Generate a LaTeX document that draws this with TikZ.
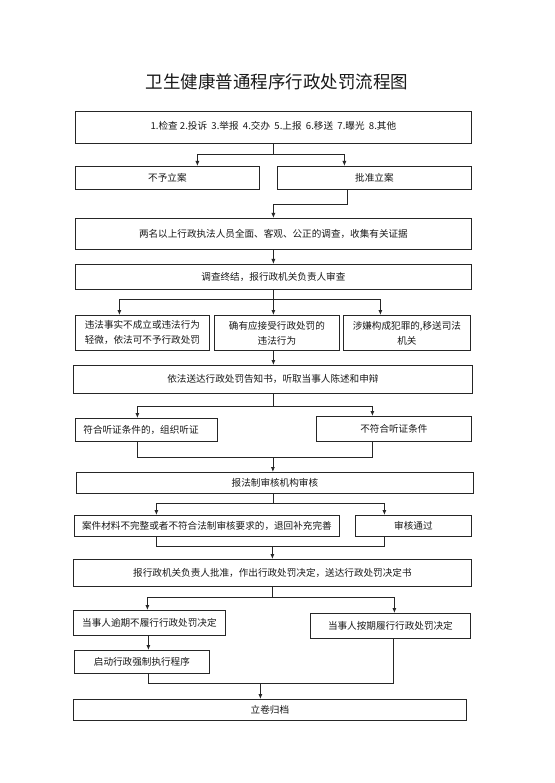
\documentclass[tikz,border=0pt]{standalone}
\usepackage{fontspec}
\newfontfamily\cjk{Noto Sans CJK SC}
\usetikzlibrary{arrows.meta,calc}
\begin{document}
\begin{tikzpicture}[x=1pt,y=-1pt,
  box/.style={draw=black!85, line width=0.8pt, inner sep=0pt, anchor=north west,
    font=\cjk\fontsize{9.6}{15}\selectfont, align=center, text=black!90},
  conn/.style={draw=black!85, line width=0.8pt},
  arr/.style={conn, -{Latex[length=5pt,width=4pt]}}]
\useasboundingbox[fill=white] (0,0) rectangle (554,783);

\node[font=\cjk\fontsize{17.5}{20}\selectfont, text=black!90] (title) at (277,82) {卫生健康普通程序行政处罚流程图};

\node[box, minimum width=396, minimum height=32] (b1) at (75,111)
  {\raisebox{4pt}{1.检查 2.投诉\ \ 3.举报\ \ 4.交办\ \ 5.上报\ \ 6.移送\ \ 7.曝光\ \ 8.其他}};
\node[box, minimum width=184, minimum height=23] (b2a) at (75,166) {不予立案};
\node[box, minimum width=194, minimum height=23] (b2b) at (277,166) {批准立案};
\node[box, minimum width=396, minimum height=31] (b3) at (75,218) {两名以上行政执法人员全面、客观、公正的调查，收集有关证据};
\node[box, minimum width=396, minimum height=25] (b4) at (75,264) {调查终结，报行政机关负责人审查};
\node[box, minimum width=134, minimum height=35] (b5a) at (75,315) {违法事实不成立或违法行为\\轻微，依法可不予行政处罚};
\node[box, minimum width=125, minimum height=35] (b5b) at (214,315) {确有应接受行政处罚的\\违法行为};
\node[box, minimum width=127, minimum height=35] (b5c) at (343,315) {涉嫌构成犯罪的,移送司法\\机关};
\node[box, minimum width=399, minimum height=28] (b6) at (73,365) {依法送达行政处罚告知书，听取当事人陈述和申辩};
\node[box, minimum height=23, inner xsep=8pt, text width=126pt, align=left] (b7a) at (75,418) {符合听证条件的，组织听证};
\node[box, minimum width=155, minimum height=25] (b7b) at (316,416) {\raisebox{1pt}{不符合听证条件}};
\node[box, minimum width=397, minimum height=21] (b8) at (76,472) {报法制审核机构审核};
\node[box, minimum width=265, minimum height=21] (b9a) at (74,515) {案件材料不完整或者不符合法制审核要求的，退回补充完善};
\node[box, minimum width=116, minimum height=21] (b9b) at (355,515) {审核通过};
\node[box, minimum width=398, minimum height=27] (b10) at (73,559) {报行政机关负责人批准，作出行政处罚决定，送达行政处罚决定书};
\node[box, minimum width=152, minimum height=25] (b11a) at (73,610) {当事人逾期不履行行政处罚决定};
\node[box, minimum width=160, minimum height=25] (b11b) at (310,613) {当事人按期履行行政处罚决定};
\node[box, minimum width=135, minimum height=23] (b12) at (74,650) {启动行政强制执行程序};
\node[box, minimum width=393, minimum height=21] (b13) at (73,699) {立卷归档};

% b1 -> b2
\draw[arr] (b1.south) -- ++(0,11) -| ($(b2a.north)+(30,0)$);
\draw[arr] (b1.south) -- ++(0,11) -| ($(b2b.north)+(-30,0)$);
% b2b -> b3
\draw[arr] ($(b2b.south)+(-27,0)$) -- ++(0,15) -| (b3.north);
% b3 -> b4
\draw[arr] (b3.south) -- (b4.north);
% b4 -> b5
\draw[arr] (b4.south) -- ++(0,10) -| ($(b5a.north)+(-23,0)$);
\draw[arr] (b4.south) -- (b4.south |- b5b.north);
\draw[arr] (b4.south) -- ++(0,10) -| ($(b5c.north)+(-26.5,0)$);
% b5b -> b6
\draw[arr] (b5b.south -| b4.south) -- (b6.north -| b4.south);
% b6 -> b7
\draw[arr] (b6.south) -- ++(0,13) -| ($(b7a.north)+(-9,0)$);
\draw[arr] (b6.south) -- ++(0,13) -| ($(b7b.north)+(-21.5,0)$);
% b7 -> b8
\draw[conn] ($(b7a.south)+(-9,0)$) -- ++(0,16) coordinate (m7) -| ($(b7b.south)+(-21.5,0)$);
\draw[arr] ($(m7 -| b6.south)$) -- (b8.north -| b6.south);
% b8 -> b9
\draw[arr] (b8.south -| b6.south) -- ++(0,10) -| ($(b9a.north)+(-50.5,0)$);
\draw[arr] (b8.south -| b6.south) -- ++(0,10) -| ($(b9b.north)+(-29,0)$);
% b9 -> b10
\draw[conn] ($(b9a.south)+(-50.5,0)$) -- ++(0,10) coordinate (m9) -| ($(b9b.south)+(-29,0)$);
\draw[arr] (m9 -| b10.north) -- (b10.north);
% b10 -> b11
\draw[arr] (b10.south) -- ++(0,11) -| ($(b11a.north)+(-2,0)$);
\draw[arr] (b10.south) -- ++(0,11) -| ($(b11b.north)+(4,0)$);
% b11a -> b12
\draw[arr] ($(b11a.south)+(-1,0)$) -- ($(b11a.south |- b12.north)+(-1,0)$);
% b12, b11b -> b13
\draw[conn] ($(b12.south -| b11a.south)+(-1,0)$) -- ++(0,10) coordinate (m12) -| ($(b11b.south)+(3,0)$);
\draw[arr] ($(m12 -| b13.north)+(-9.5,0)$) -- ($(b13.north)+(-9.5,0)$);
\end{tikzpicture}
\end{document}
